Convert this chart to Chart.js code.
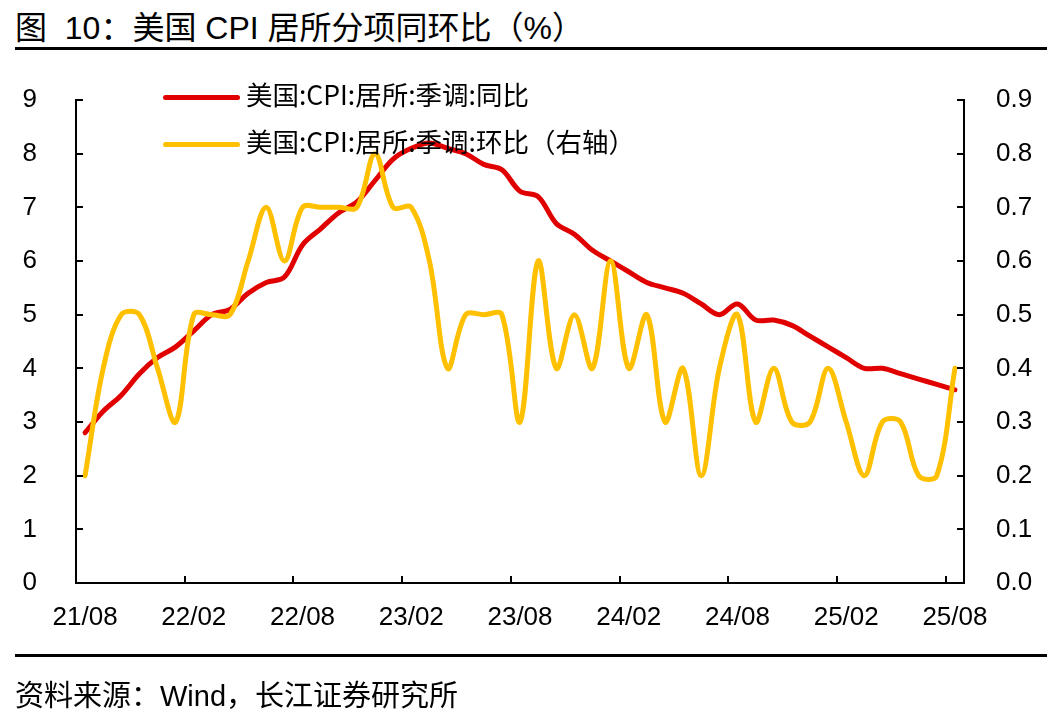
<!DOCTYPE html>
<html>
<head>
<meta charset="utf-8">
<script src="https://cdn.jsdelivr.net/npm/chart.js@4"></script>
<style>
  body { margin: 0; background: #fff; width: 1062px; height: 722px; overflow: hidden; position: relative;
         font-family: "Liberation Sans", "Noto Sans CJK SC", sans-serif; color: #000; }
  #wrap { position: absolute; left: 0; top: 0; width: 1062px; height: 722px; }
  .title { position: absolute; left: 15px; top: 9px; font-size: 32px; line-height: 38px; white-space: pre; }
  .rule { position: absolute; left: 15px; width: 1032px; height: 3px; background: #000; }
  .source { position: absolute; left: 15px; top: 678px; font-size: 29px; line-height: 36px; white-space: nowrap; }
  .leg { position: absolute; left: 163px; height: 40px; white-space: nowrap; font-size: 26.5px; line-height: 40px;
         font-family: "Noto Sans CJK SC", sans-serif; }
  .leg span.ln { display: inline-block; width: 77px; height: 5px; border-radius: 3px; vertical-align: middle; margin-right: 6px; }
</style>
</head>
<body>
<div class="title">图  10：美国 CPI 居所分项同环比（%）</div>
<div class="rule" style="top:47px"></div>
<div id="wrap"><canvas id="myChart" width="1062" height="722"></canvas></div>
<div class="leg" style="top:74px"><span class="ln" style="background:#E00000"></span>美国:CPI:居所:季调:同比</div>
<div class="leg" style="top:121px"><span class="ln" style="background:#FFC000"></span>美国:CPI:居所:季调:环比（右轴）</div>
<div class="rule" style="top:654px"></div>
<div class="source">资料来源：Wind，长江证券研究所</div>

<script>
const months = [
  '21/08','21/09','21/10','21/11','21/12',
  '22/01','22/02','22/03','22/04','22/05','22/06','22/07','22/08','22/09','22/10','22/11','22/12',
  '23/01','23/02','23/03','23/04','23/05','23/06','23/07','23/08','23/09','23/10','23/11','23/12',
  '24/01','24/02','24/03','24/04','24/05','24/06','24/07','24/08','24/09','24/10','24/11','24/12',
  '25/01','25/02','25/03','25/04','25/05','25/06','25/07','25/08'
];

// 同比 (left axis, %)
const yoy = [
  2.8, 3.2, 3.5, 3.9, 4.2,
  4.4, 4.7, 5.0, 5.1, 5.4, 5.6, 5.7, 6.3, 6.6, 6.9, 7.1, 7.5,
  7.9, 8.1, 8.2, 8.1, 8.0, 7.8, 7.7, 7.3, 7.2, 6.7, 6.5, 6.2,
  6.0, 5.8, 5.6, 5.5, 5.4, 5.2, 5.0, 5.2, 4.9, 4.9, 4.8, 4.6,
  4.4, 4.2, 4.0, 4.0, 3.9, 3.8, 3.7, 3.6
];

// 环比 (right axis, %)
const mom = [
  0.2, 0.4, 0.5, 0.5, 0.4,
  0.3, 0.5, 0.5, 0.5, 0.6, 0.7, 0.6, 0.7, 0.7, 0.7, 0.7, 0.8,
  0.7, 0.7, 0.6, 0.4, 0.5, 0.5, 0.5, 0.3, 0.6, 0.4, 0.5, 0.4,
  0.6, 0.4, 0.5, 0.3, 0.4, 0.2, 0.4, 0.5, 0.3, 0.4, 0.3, 0.3,
  0.4, 0.3, 0.2, 0.3, 0.3, 0.2, 0.2, 0.4
];

const leftTicks = [0, 1, 2, 3, 4, 5, 6, 7, 8, 9];
const rightTicks = [0, 0.1, 0.2, 0.3, 0.4, 0.5, 0.6, 0.7, 0.8, 0.9];

const tickFont = { family: 'Liberation Sans, Arial, sans-serif', size: 26 };

// tick marks point inwards, like the original
const innerTicks = {
  id: 'innerTicks',
  afterDraw(chart) {
    const ctx = chart.ctx;
    const x = chart.scales.x, yl = chart.scales.y, yr = chart.scales.y1;
    const len = 7;
    ctx.save();
    ctx.strokeStyle = '#000';
    ctx.lineWidth = 2;
    ctx.beginPath();
    leftTicks.forEach(v => {
      const py = Math.round(yl.getPixelForValue(v));
      ctx.moveTo(yl.right, py); ctx.lineTo(yl.right + len, py);
    });
    rightTicks.forEach(v => {
      const py = Math.round(yr.getPixelForValue(v));
      ctx.moveTo(yr.left, py); ctx.lineTo(yr.left - len, py);
    });
    const half = (x.getPixelForValue(1) - x.getPixelForValue(0)) / 2;
    for (let i = 6; i < months.length; i += 6) {
      const px = Math.round(x.getPixelForValue(i) - half);
      ctx.moveTo(px, x.top); ctx.lineTo(px, x.top - len);
    }
    ctx.stroke();
    ctx.restore();
  }
};

const ctx = document.getElementById('myChart').getContext('2d');
const myChart = new Chart(ctx, {
  type: 'line',
  data: {
    labels: months,
    datasets: [{
      label: '美国:CPI:居所:季调:同比',
      data: yoy,
      yAxisID: 'y',
      borderColor: '#E00000',
      borderWidth: 5,
      pointRadius: 0,
      tension: 0.35,
      borderCapStyle: 'round',
      borderJoinStyle: 'round',
      order: 1
    }, {
      label: '美国:CPI:居所:季调:环比（右轴）',
      data: mom,
      yAxisID: 'y1',
      borderColor: '#FFC000',
      borderWidth: 5,
      pointRadius: 0,
      tension: 0.35,
      borderCapStyle: 'round',
      borderJoinStyle: 'round',
      order: 0
    }]
  },
  options: {
    responsive: false,
    animation: false,
    layout: { padding: { top: 100, left: 0, right: 0, bottom: 0 } },
    plugins: { legend: { display: false }, tooltip: { enabled: false } },
    scales: {
      x: {
        offset: true,
        grid: { display: false },
        border: { color: '#000', width: 2 },
        ticks: {
          autoSkip: false, maxRotation: 0, minRotation: 0,
          color: '#000', font: tickFont, padding: 11,
          callback: (v, i) => (i % 6 === 0 ? months[i] : '')
        },
        afterFit: s => { s.height = 139; }
      },
      y: {
        position: 'left',
        min: 0, max: 9,
        grid: { display: false },
        border: { color: '#000', width: 2 },
        ticks: { stepSize: 1, color: '#000', font: tickFont, padding: 31 },
        afterFit: s => { s.width = 76; }
      },
      y1: {
        position: 'right',
        min: 0, max: 0.9,
        grid: { display: false },
        border: { color: '#000', width: 2 },
        ticks: { stepSize: 0.1, color: '#000', font: tickFont, padding: 24,
                 callback: v => Number(v).toFixed(1) },
        afterFit: s => { s.width = 98; }
      }
    }
  },
  plugins: [innerTicks]
});
</script>
</body>
</html>
